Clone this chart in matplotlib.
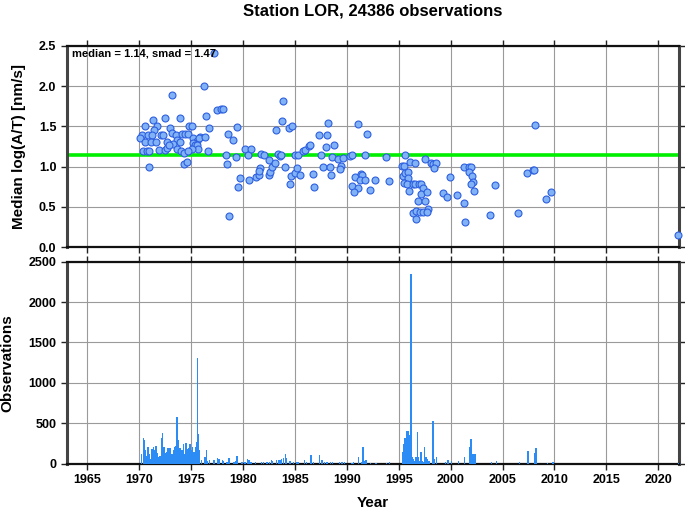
import matplotlib
matplotlib.use("Agg")
import matplotlib.pyplot as plt
from matplotlib.ticker import MultipleLocator

plt.rcParams['font.family'] = ['Liberation Sans', 'DejaVu Sans']
plt.rcParams['font.weight'] = 'bold'

title = "Station LOR, 24386 observations"
stats_text = "median = 1.14, smad = 1.47"
median_value = 1.14

# ---- Top panel: median log(A/T) per period ----
med_years = [
    1977.15, 1976.22, 1973.14, 1977.53, 1977.88, 1978.08, 1983.88, 1983.78, 1983.14, 1984.42,
    1984.74, 1976.41, 1976.73, 1975.83, 1976.57, 1971.28, 1972.44, 1973.91, 1970.54, 1971.67,
    1972.95, 1974.74, 1975.06, 1971.41, 1970.22, 1970.87, 1971.19, 1972.05, 1972.24, 1973.11,
    1973.53, 1974.07, 1974.39, 1974.71, 1970.06, 1970.54, 1971.09, 1971.57, 1973.65, 1972.69,
    1973.27, 1973.91, 1975.19, 1975.51, 1975.77, 1976.31, 1975.16, 1975.32, 1975.51, 1975.67,
    1975.10, 1970.38, 1970.71, 1970.90, 1971.86, 1972.47, 1972.63, 1972.85, 1973.59, 1973.97,
    1974.29, 1974.71, 1970.96, 1974.29, 1974.62, 1978.56, 1979.07, 1979.39, 1978.37, 1978.49,
    1979.29, 1979.74, 1979.49, 1978.65, 1980.16, 1980.48, 1980.74, 1980.58, 1981.22, 1981.54,
    1981.67, 1981.54, 1981.76, 1982.02, 1982.47, 1982.50, 1982.63, 1982.82, 1983.04, 1983.33,
    1983.53, 1983.62, 1984.01, 1984.65, 1985.00, 1985.22, 1985.51, 1984.52, 1985.03, 1985.26,
    1985.77, 1985.99, 1986.35,
    1986.47, 1987.34, 1988.08, 1988.21, 1987.95, 1988.75, 1987.50, 1988.59, 1989.17, 1989.62,
    1987.66, 1988.33, 1988.43, 1986.76, 1986.86, 1989.42, 1989.33, 1990.26, 1990.48, 1991.09,
    1991.96, 1991.79, 1990.74, 1991.38, 1991.47, 1991.22, 1991.70, 1990.45, 1991.03, 1990.64,
    1992.18, 1992.72, 1994.04, 1993.78, 1995.64, 1995.35, 1995.48, 1996.09, 1996.57, 1997.56,
    1995.38, 1995.64, 1995.93, 1995.87, 1995.48, 1995.77, 1996.38, 1996.60, 1996.92, 1997.15,
    1997.37, 1997.18, 1997.72, 1996.03, 1998.14, 1998.30, 1998.59, 1998.40, 1996.89, 1997.50,
    1997.85, 1996.35, 1996.67, 1997.05, 1997.37, 1997.69, 1996.63, 1999.29, 1999.65, 1999.97,
    2000.64, 2001.31, 2001.41, 2001.25, 2001.79, 2001.92, 2001.76, 2002.08, 2002.18, 2001.99,
    2002.24, 2004.26, 2003.81, 2006.51, 2007.37, 2007.95, 2008.01, 2008.11, 2009.17, 2009.71,
    2021.90,
]
med_values = [
    2.41, 2.00, 1.89, 1.70, 1.71, 1.71, 1.81, 1.57, 1.46, 1.48,
    1.50, 1.63, 1.48, 1.37, 1.20, 1.58, 1.60, 1.60, 1.50, 1.50,
    1.48, 1.50, 1.50, 1.45, 1.39, 1.39, 1.39, 1.39, 1.39, 1.42,
    1.39, 1.40, 1.40, 1.40, 1.35, 1.30, 1.30, 1.30, 1.33, 1.30,
    1.28, 1.31, 1.35, 1.32, 1.36, 1.37, 1.29, 1.27, 1.27, 1.22,
    1.22, 1.20, 1.20, 1.20, 1.21, 1.21, 1.23, 1.27, 1.22, 1.20,
    1.17, 1.20, 1.00, 1.03, 1.06, 1.41, 1.33, 1.49, 1.14, 1.03,
    1.12, 0.86, 0.75, 0.39, 1.22, 1.15, 1.22, 0.84, 0.87, 0.90,
    0.98, 0.95, 1.16, 1.14, 1.08, 0.90, 0.94, 0.99, 1.05, 1.16,
    1.13, 1.14, 1.00, 0.89, 0.92, 0.98, 0.90, 0.79, 1.14, 1.14,
    1.19, 1.21, 1.26,
    1.27, 1.39, 1.39, 1.54, 1.24, 1.27, 1.15, 1.12, 1.10, 1.11,
    0.99, 1.00, 0.90, 0.91, 0.75, 1.01, 0.97, 1.13, 1.14, 1.53,
    1.41, 1.15, 0.87, 0.91, 0.90, 0.83, 0.84, 0.76, 0.74, 0.69,
    0.71, 0.83, 0.82, 1.12, 1.15, 1.01, 1.01, 1.06, 1.05, 1.10,
    0.88, 0.92, 0.93, 0.86, 0.80, 0.79, 0.79, 0.79, 0.79, 0.79,
    0.73, 0.66, 0.69, 0.70, 1.04, 1.03, 1.05, 0.98, 0.57, 0.58,
    0.48, 0.43, 0.45, 0.44, 0.44, 0.44, 0.35, 0.67, 0.62, 0.87,
    0.65, 0.55, 0.32, 0.99, 0.99, 1.00, 0.93, 0.88, 0.81, 0.79,
    0.70, 0.77, 0.40, 0.43, 0.92, 0.96, 0.96, 1.52, 0.60, 0.68,
    0.15,
]

# ---- Bottom panel: observation counts per month ----
bar_years = [
    1970.13, 1970.32, 1970.42, 1970.51, 1970.64, 1970.77, 1970.90, 1971.03, 1971.15, 1971.28,
    1971.41, 1971.54, 1971.67, 1971.79, 1971.92, 1972.05, 1972.18, 1972.31, 1972.44, 1972.56,
    1972.69, 1972.82, 1972.95, 1973.08, 1973.21, 1973.33, 1973.46, 1973.56, 1973.65, 1973.78,
    1973.91, 1974.04, 1974.17, 1974.29, 1974.42, 1974.55, 1974.68, 1974.81, 1974.94, 1975.06,
    1975.19, 1975.32, 1975.42, 1975.51, 1975.64, 1975.74, 1975.90,
    1976.25, 1976.38, 1976.51, 1976.70, 1977.12, 1977.47, 1977.60, 1977.92, 1978.04, 1978.37,
    1978.56, 1979.04, 1979.20, 1979.36, 1979.84, 1980.10, 1980.38, 1980.51, 1980.71, 1981.12,
    1981.70, 1981.89, 1982.24, 1982.47, 1982.66, 1982.79, 1983.17, 1983.37, 1983.49, 1983.62,
    1983.85, 1984.01, 1984.13, 1984.46, 1984.81, 1985.13, 1985.29, 1985.83, 1986.03, 1986.47,
    1986.73, 1987.31, 1987.53, 1987.79, 1988.01, 1988.33, 1988.56, 1989.20, 1989.46, 1989.68,
    1990.42, 1990.58, 1991.06, 1991.32, 1991.48, 1991.65, 1991.77, 1992.19, 1992.74, 1993.77,
    1994.03, 1995.32, 1995.42, 1995.55, 1995.65, 1995.74, 1995.84, 1995.94, 1996.03, 1996.12,
    1996.23, 1996.35, 1996.48, 1996.61, 1996.71, 1996.81, 1996.94, 1997.06, 1997.19, 1997.32,
    1997.42, 1997.55, 1997.68, 1997.84, 1998.23, 1998.39, 1998.59, 1999.42, 1999.68, 2000.03,
    2000.71, 2001.28, 2001.79, 2001.89, 2001.99, 2002.08, 2002.18, 2002.28, 2003.88, 2004.36,
    2006.57, 2007.40, 2008.04, 2008.17, 2009.29, 2009.78, 2021.90,
]
bar_counts = [
    115, 320, 290, 165, 90, 205, 125, 60, 185, 205,
    165, 225, 130, 80, 100, 320, 380, 205, 130, 145,
    200, 200, 200, 125, 165, 205, 225, 575, 290, 195,
    200, 165, 240, 125, 250, 185, 200, 240, 165, 205,
    145, 205, 270, 1310, 370, 165, 40,
    83, 165, 33, 41, 41, 74, 62, 50, 33, 25,
    66, 25, 33, 91, 17, 25, 58, 41, 25, 17,
    25, 17, 17, 25, 41, 33, 41, 50, 41, 62,
    66, 124, 74, 33, 25, 25, 17, 41, 17, 103,
    25, 112, 41, 25, 25, 17, 17, 17, 17, 25,
    13, 21, 88, 17, 206, 29, 46, 13, 13, 13,
    21, 143, 248, 323, 269, 407, 407, 353, 290, 2345,
    80, 59, 38, 80, 395, 80, 38, 143, 38, 17,
    206, 80, 59, 38, 525, 59, 83, 21, 50, 33,
    33, 83, 208, 300, 125, 50, 117, 125, 17, 29,
    25, 158, 133, 200, 13, 25, 10,
]

x_ticks = [1965, 1970, 1975, 1980, 1985, 1990, 1995, 2000, 2005, 2010, 2015, 2020]
x_min, x_max = 1963.0, 2022.0

fig = plt.figure(figsize=(6.85, 5.11), dpi=100)
ax1 = fig.add_axes([0.0974, 0.516, 0.8938, 0.3946])
ax2 = fig.add_axes([0.0974, 0.0926, 0.8938, 0.3953])

grid_kw = dict(color='#9a9a9a', linewidth=0.8)

for ax in (ax1, ax2):
    ax.set_xlim(x_min, x_max)
    ax.set_xticks(x_ticks)
    ax.grid(True, **grid_kw)
    ax.set_axisbelow(True)
    ax.tick_params(direction='out', length=4, width=1.0, top=True, right=True,
                   labelsize=9, color='#222222')
    for side in ('top', 'bottom'):
        ax.spines[side].set_linewidth(1.6)
        ax.spines[side].set_color('#111111')
    for side in ('left', 'right'):
        ax.spines[side].set_linewidth(2.2)
        ax.spines[side].set_color('#444444')

# Top panel
ax1.set_ylim(0, 2.5)
ax1.yaxis.set_major_locator(MultipleLocator(0.5))
ax1.set_yticklabels([f"{v:.1f}" for v in ax1.get_yticks()], fontweight='bold', fontsize=9)
ax1.tick_params(labelbottom=False)
ax1.axhline(median_value, color='#00ee00', linewidth=2.6, zorder=2)
ax1.plot(med_years, med_values, linestyle='none', marker='o', markersize=5,
         markerfacecolor='#82b2f6', markeredgecolor='#2d5fe0', markeredgewidth=0.8,
         zorder=3, clip_on=False)
ax1.text(0.008, 0.985, stats_text, transform=ax1.transAxes, ha='left', va='top',
         fontsize=8, fontweight='bold', zorder=5)
ax1.set_ylabel("Median log(A/T) [nm/s]", fontsize=11, fontweight='bold')
ax1.yaxis.set_label_coords(-0.066, 0.5)

# Bottom panel
ax2.bar(bar_years, bar_counts, width=0.13, color='#2b8cf5', edgecolor='none',
        align='edge', zorder=3)
ax2.set_ylim(0, 2500)
ax2.yaxis.set_major_locator(MultipleLocator(500))
ax2.set_yticklabels([f"{int(v)}" for v in ax2.get_yticks()], fontweight='bold', fontsize=9)
ax2.set_xticklabels([str(t) for t in x_ticks], fontweight='bold', fontsize=9)
ax2.set_ylabel("Observations", fontsize=11, fontweight='bold')
ax2.yaxis.set_label_coords(-0.085, 0.5)
ax2.set_xlabel("Year", fontsize=11, fontweight='bold')
ax2.xaxis.set_label_coords(0.5, -0.16)

fig.text(0.544, 0.978, title, ha='center', va='center', fontsize=12, fontweight='bold')

fig.savefig("out.png", dpi=100)
